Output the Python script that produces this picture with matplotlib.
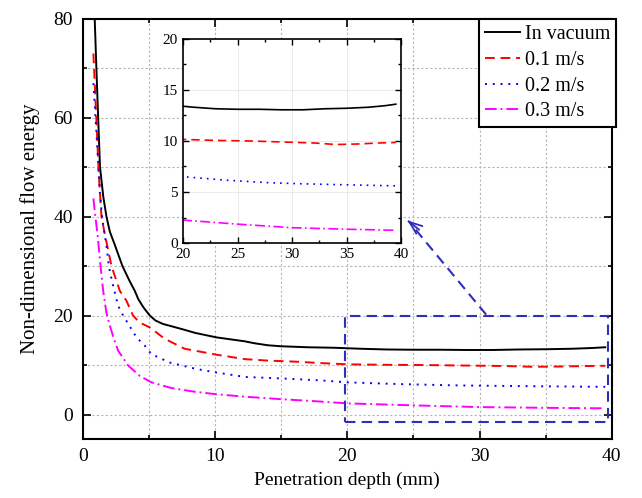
import matplotlib.pyplot as plt
from matplotlib.patches import Rectangle
from matplotlib.ticker import MultipleLocator

plt.rcParams['font.family'] = ['Liberation Serif', 'DejaVu Serif']

# data
x_vac = [0.9, 1.0, 1.16, 1.3, 1.55, 1.79, 2.04, 2.42, 3.0, 3.5, 3.93, 4.2, 4.6, 5.07, 5.5, 6.07, 6.5, 7.46,
         8.5, 10.1, 12.25, 13, 14, 15, 17, 19, 21, 23, 25, 27, 29, 31, 33, 35, 37, 38.5, 39.5]
y_vac = [80, 72, 60, 50, 44, 40, 37, 34.3, 30, 27.2, 25, 23.3, 21.6, 20, 19, 18.3, 18.0, 17.3,
         16.5, 15.6, 14.8, 14.4, 14.0, 13.8, 13.6, 13.5, 13.3, 13.15, 13.1, 13.1, 13.05, 13.05, 13.15, 13.2, 13.3, 13.45, 13.6]

x_01 = [0.8, 1.0, 1.2, 1.41, 1.66, 2.17, 2.8, 3.3, 3.8, 4.3, 5.07, 6.2, 7.7, 10.1, 12.25, 14, 16, 18, 20,
        23, 26, 29, 32, 34, 36, 38, 39.5]
y_01 = [73, 61, 49, 40, 36.5, 30, 25, 23, 20, 18.6, 17.6, 15.3, 13.3, 12.1, 11.2, 10.9, 10.7, 10.4, 10.15,
        10.05, 10.0, 9.9, 9.8, 9.65, 9.7, 9.8, 9.85]

x_02 = [0.8, 1.03, 1.29, 1.45, 1.79, 1.97, 2.2, 2.67, 3.05, 4.06, 4.69, 5.19, 6.58, 8.6, 10.1, 12.25, 15, 18, 20,
        24, 28, 31, 35, 39.5]
y_02 = [67, 57, 45, 40, 34, 30, 27, 22, 20, 15.6, 13.9, 12.2, 10.5, 9.2, 8.5, 7.6, 7.3, 6.9, 6.5,
        6.15, 5.9, 5.8, 5.7, 5.6]

x_03 = [0.8, 0.95, 1.11, 1.34, 1.54, 1.79, 2.04, 2.35, 2.67, 3.43, 4.31, 5.19, 6.7, 8.47, 10.1, 12.25, 15, 17.5,
        20, 25, 30, 35, 39.5]
y_03 = [43.7, 40, 36.5, 30, 25, 20.5, 18, 15.3, 12.9, 9.9, 7.8, 6.5, 5.35, 4.6, 4.1, 3.6, 3.1, 2.7,
        2.25, 1.85, 1.5, 1.35, 1.25]

labels = ['In vacuum', '0.1 m/s', '0.2 m/s', '0.3 m/s']
clrs = ['black', '#FF0000', '#0000FF', '#FF00FF']
styles = ['-', (0, (5, 3)), (0, (1, 3)), (0, (6, 2, 1, 2))]
series = [(x_vac, y_vac), (x_01, y_01), (x_02, y_02), (x_03, y_03)]

box_col = '#2E2EB8'

fig = plt.figure(figsize=(6.42, 4.98), dpi=100)
ax = fig.add_axes([0.129, 0.118, 0.824, 0.844])

for (xs, ys), lab, c, ls in zip(series, labels, clrs, styles):
    ax.plot(xs, ys, color=c, linestyle=ls, linewidth=1.4, label=lab)

ax.set_xlim(0, 40)
ax.set_ylim(-5, 80)
ax.xaxis.set_major_locator(MultipleLocator(10))
ax.xaxis.set_minor_locator(MultipleLocator(5))
ax.yaxis.set_major_locator(MultipleLocator(20))
ax.yaxis.set_minor_locator(MultipleLocator(10))
ax.tick_params(which='both', direction='in', top=True, right=True, labelsize=14, width=1.2)
ax.tick_params(which='major', length=6)
ax.tick_params(which='minor', length=3)
ax.tick_params(axis='y', which='major', pad=7)
ax.tick_params(axis='x', which='major', pad=6)
for s in ax.spines.values():
    s.set_linewidth(1.5)
ax.grid(True, which='both', color='#b5b5b5', linestyle=(0, (2, 2)), linewidth=0.8)
ax.set_axisbelow(True)
ax.set_xlabel('Penetration depth (mm)', fontsize=14, labelpad=5)
ax.set_ylabel('Non-dimensional flow energy', fontsize=15, labelpad=10)

# zoom box and pointer
ax.add_patch(Rectangle((19.8, -1.6), 19.9, 21.6, fill=False, edgecolor=box_col,
                       linestyle=(0, (5, 3)), linewidth=1.5, zorder=5))
ax.plot([30.5, 24.6], [20.2, 39.2], color=box_col, linestyle=(0, (5, 3)), linewidth=1.5, zorder=5)
ax.annotate('', xy=(24.4, 39.6), xytext=(25.6, 37.0),
            arrowprops=dict(arrowstyle='->,head_length=0.9,head_width=0.35', color=box_col, lw=1.3), zorder=6)

leg = ax.legend(loc='upper right', bbox_to_anchor=(1.008, 1.0), borderaxespad=0, fontsize=14.5,
                frameon=True, fancybox=False, framealpha=1, edgecolor='black',
                handlelength=1.7, handletextpad=0.25, labelspacing=0.33, borderpad=0.3)
leg.get_frame().set_linewidth(1.5)

# inset
axi = fig.add_axes([0.285, 0.512, 0.34, 0.41])
for (xs, ys), c, ls in zip(series, clrs, styles):
    axi.plot(xs, ys, color=c, linestyle=ls, linewidth=1.2)
axi.set_xlim(20, 40)
axi.set_ylim(0, 20)
axi.xaxis.set_major_locator(MultipleLocator(5))
axi.xaxis.set_minor_locator(MultipleLocator(2.5))
axi.yaxis.set_major_locator(MultipleLocator(5))
axi.yaxis.set_minor_locator(MultipleLocator(2.5))
axi.tick_params(which='both', direction='in', top=True, right=True, labelsize=11, width=1.0)
axi.tick_params(which='major', length=4)
axi.tick_params(which='minor', length=2)
for s in axi.spines.values():
    s.set_linewidth(1.2)
axi.grid(True, which='major', color='#e6e6e6', linewidth=0.6)
axi.set_axisbelow(True)

fig.savefig('out.png', dpi=100)
